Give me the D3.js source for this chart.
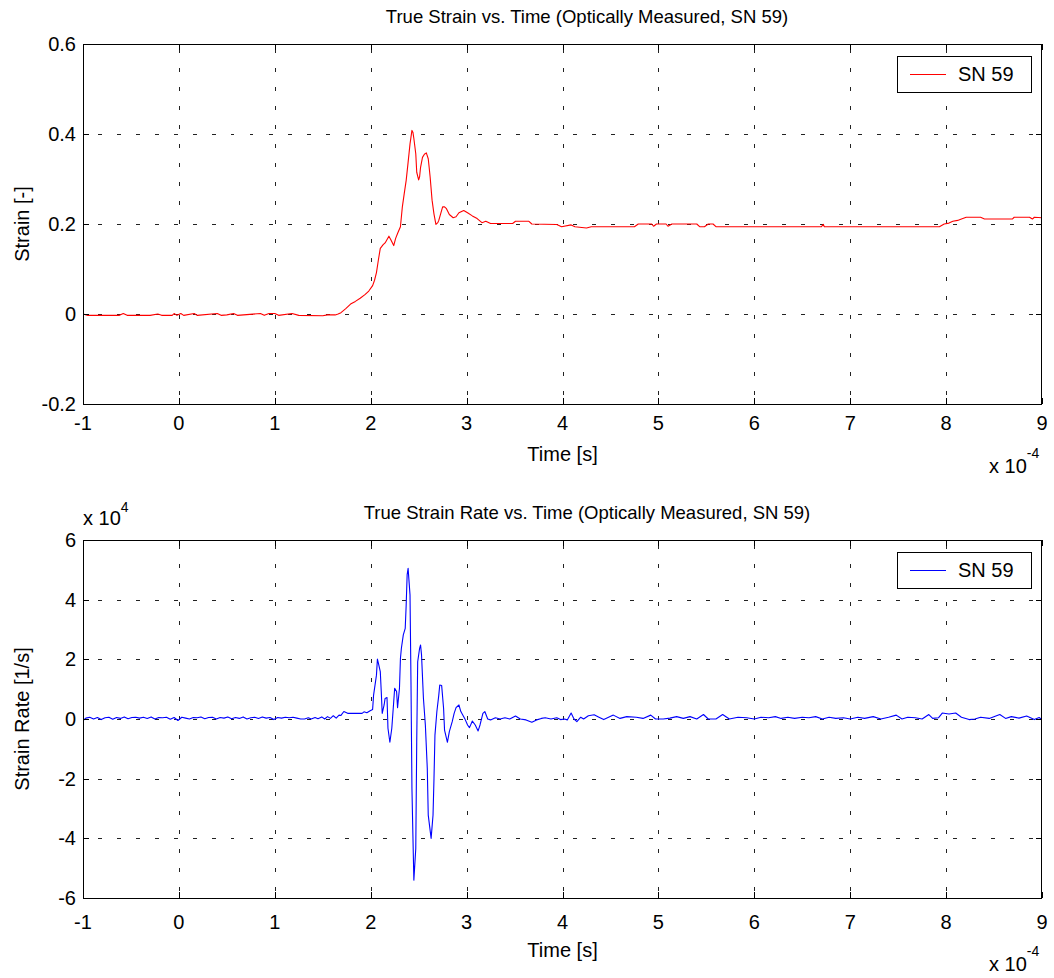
<!DOCTYPE html>
<html>
<head>
<meta charset="utf-8">
<script src="https://cdn.jsdelivr.net/npm/d3@7"></script>
<style>
  html, body { margin: 0; padding: 0; background: #fff; }
  svg { display: block; }
  text { font-family: "Liberation Sans", Arial, Helvetica, sans-serif; fill: #000; }
</style>
</head>
<body>
<svg id="fig" width="1054" height="978"></svg>
<script>
// Time axis in units of 1e-4 s
const timeTicks = [-1, 0, 1, 2, 3, 4, 5, 6, 7, 8, 9];
const strainTicks = [-0.2, 0, 0.2, 0.4, 0.6];
const strainTickLabels = ["-0.2", "0", "0.2", "0.4", "0.6"];
const rateTicks = [-6, -4, -2, 0, 2, 4, 6];          // units of 1e4 1/s
const rateTickLabels = ["-6", "-4", "-2", "0", "2", "4", "6"];

const seriesName = "SN 59";

// True strain, optically measured: [time (1e-4 s), strain (-)]
const strainTime = [
  -1.00, -0.95, -0.80, -0.62, -0.58, -0.54, -0.30, -0.22, -0.18, -0.07, -0.05, -0.02,
  0.02, 0.05, 0.16, 0.19, 0.40, 0.44, 0.50, 0.57, 0.61, 0.85, 0.89, 0.94, 1.00, 1.04,
  1.18, 1.25, 1.50, 1.55, 1.63, 1.66, 1.69, 1.74, 1.79, 1.84, 1.89, 1.94, 1.98, 2.02,
  2.04, 2.06, 2.08, 2.10, 2.13, 2.15, 2.19, 2.21, 2.24, 2.26, 2.28, 2.31, 2.33, 2.35,
  2.37, 2.39, 2.41, 2.43, 2.44, 2.45, 2.47, 2.48, 2.50, 2.51, 2.52, 2.54, 2.56, 2.58,
  2.60, 2.61, 2.62, 2.64, 2.66, 2.68, 2.70, 2.71, 2.73, 2.75, 2.77, 2.79, 2.82, 2.86,
  2.89, 2.92, 2.97, 3.01, 3.06, 3.11, 3.16, 3.20, 3.25, 3.48, 3.51, 3.65, 3.68, 3.94,
  3.99, 4.09, 4.13, 4.25, 4.30, 4.75, 4.79, 4.93, 4.95, 4.98, 5.08, 5.10, 5.14, 5.40,
  5.43, 5.48, 5.52, 5.57, 5.60, 6.70, 6.72, 6.73, 7.93, 7.98, 8.03, 8.07, 8.12, 8.16,
  8.21, 8.36, 8.40, 8.69, 8.71, 8.87, 8.90, 8.92, 9.00
];
const strainValues = [
  0.000, -0.003, -0.003, -0.003, 0.001, -0.003, -0.003, 0.000, -0.003, -0.003, 0.001, -0.003,
  0.001, -0.003, 0.001, -0.003, 0.001, -0.003, -0.002, 0.001, -0.003, 0.001, -0.003, 0.001, 0.001, -0.003,
  0.001, -0.003, -0.004, -0.002, -0.002, 0.000, 0.003, 0.012, 0.022, 0.028, 0.035, 0.043, 0.051, 0.063,
  0.075, 0.092, 0.120, 0.146, 0.154, 0.158, 0.173, 0.165, 0.152, 0.168, 0.179, 0.194, 0.238, 0.268,
  0.297, 0.337, 0.378, 0.408, 0.404, 0.390, 0.356, 0.315, 0.298, 0.305, 0.326, 0.348, 0.355, 0.358,
  0.345, 0.325, 0.304, 0.253, 0.222, 0.199, 0.203, 0.208, 0.223, 0.238, 0.238, 0.234, 0.221, 0.214,
  0.216, 0.225, 0.230, 0.225, 0.218, 0.212, 0.203, 0.206, 0.201, 0.201, 0.206, 0.206, 0.200, 0.199,
  0.194, 0.198, 0.194, 0.191, 0.194, 0.194, 0.200, 0.200, 0.195, 0.200, 0.200, 0.195, 0.200, 0.200,
  0.194, 0.194, 0.200, 0.200, 0.194, 0.194, 0.199, 0.194, 0.194, 0.200, 0.202, 0.206, 0.208, 0.211,
  0.215, 0.215, 0.211, 0.211, 0.215, 0.215, 0.211, 0.215, 0.214
];

// True strain rate, optically measured: [time (1e-4 s), rate (1e4 1/s)]
const rateTime = [
  -1.00, -0.97, -0.93, -0.89, -0.85, -0.81, -0.77, -0.73, -0.69, -0.65, -0.61, -0.57,
  -0.53, -0.49, -0.45, -0.41, -0.37, -0.33, -0.29, -0.25, -0.21, -0.17, -0.13, -0.09,
  -0.05, -0.01, 0.03, 0.07, 0.11, 0.15, 0.19, 0.23, 0.27, 0.31, 0.35, 0.39, 0.43, 0.47,
  0.51, 0.55, 0.59, 0.63, 0.67, 0.71, 0.75, 0.79, 0.83, 0.87, 0.91, 0.95, 0.99, 1.03,
  1.07, 1.11, 1.15, 1.19, 1.23, 1.27, 1.31, 1.35, 1.38, 1.42, 1.45, 1.49, 1.52, 1.55,
  1.58, 1.61, 1.64, 1.67, 1.69, 1.72, 1.76, 1.91, 1.93, 1.96, 1.99, 2.02, 2.03, 2.06,
  2.07, 2.08, 2.10, 2.11, 2.12, 2.14, 2.15, 2.17, 2.18, 2.20, 2.22, 2.24, 2.25, 2.27,
  2.28, 2.30, 2.31, 2.32, 2.34, 2.36, 2.37, 2.38, 2.39, 2.41, 2.42, 2.43, 2.44, 2.45,
  2.47, 2.48, 2.49, 2.51, 2.52, 2.53, 2.55, 2.57, 2.59, 2.60, 2.63, 2.65, 2.66, 2.67,
  2.69, 2.71, 2.72, 2.74, 2.76, 2.77, 2.80, 2.82, 2.85, 2.87, 2.89, 2.92, 2.94, 2.98,
  3.01, 3.03, 3.06, 3.09, 3.12, 3.14, 3.17, 3.19, 3.22, 3.25, 3.30, 3.35, 3.40, 3.45,
  3.51, 3.56, 3.62, 3.68, 3.73, 3.78, 3.82, 3.88, 3.94, 3.98, 4.02, 4.05, 4.09, 4.12,
  4.15, 4.19, 4.22, 4.27, 4.33, 4.38, 4.43, 4.53, 4.60, 4.67, 4.77, 4.84, 4.92, 4.97,
  5.05, 5.12, 5.19, 5.26, 5.33, 5.40, 5.47, 5.52, 5.60, 5.67, 5.74, 5.83, 5.92, 6.00,
  6.07, 6.15, 6.22, 6.28, 6.35, 6.42, 6.50, 6.57, 6.64, 6.71, 6.78, 6.85, 6.93, 7.00,
  7.08, 7.15, 7.24, 7.32, 7.40, 7.48, 7.54, 7.60, 7.68, 7.75, 7.82, 7.86, 7.92, 7.96,
  8.03, 8.10, 8.16, 8.24, 8.30, 8.36, 8.45, 8.56, 8.62, 8.68, 8.76, 8.84, 8.92, 8.97,
  9.00
];
const rateValues = [
  -0.05, 0.03, 0.06, 0.00, 0.05, -0.02, 0.04, 0.06, -0.01, 0.05, 0.02, 0.07,
  0.01, 0.05, 0.06, 0.03, 0.06, 0.02, 0.07, 0.00, 0.05, 0.04, 0.06, -0.01,
  0.05, -0.05, 0.06, 0.03, 0.00, 0.05, 0.04, 0.07, 0.01, 0.05, 0.06, 0.00, 0.05, 0.03,
  0.07, 0.01, 0.05, 0.02, 0.07, 0.00, 0.04, 0.06, 0.02, 0.07, 0.03, 0.05, -0.02, 0.05,
  0.03, 0.06, 0.04, 0.06, 0.03, 0.00, 0.00, 0.04, 0.00, 0.05, 0.01, 0.07, 0.00, 0.08,
  0.02, 0.11, 0.03, 0.13, 0.12, 0.25, 0.19, 0.19, 0.24, 0.21, 0.27, 0.32, 0.80, 1.47,
  2.01, 1.87, 1.59, 0.92, 0.19, 0.47, 0.69, 0.72, -0.31, -0.78, -0.31, 0.58, 1.03, 0.92,
  0.38, 1.03, 2.03, 2.37, 2.82, 3.04, 3.82, 4.83, 5.05, 4.16, 1.25, -2.32, -3.89, -5.40,
  -4.34, -0.76, 1.92, 2.37, 2.48, 2.15, 0.69, -0.20, -1.65, -3.22, -4.00, -3.22, -1.99, -0.54,
  0.25, 0.80, 1.14, 1.12, 0.36, -0.37, -0.78, -0.42, -0.09, 0.19, 0.38, 0.47, 0.25, 0.02,
  -0.20, -0.29, -0.07, -0.20, -0.40, -0.20, 0.19, 0.25, 0.00, -0.03, 0.04, 0.00, 0.04, 0.00,
  0.10, 0.00, -0.03, -0.11, -0.03, 0.02, 0.04, 0.00, 0.04, -0.02, 0.00, -0.03, 0.20, 0.00,
  -0.09, 0.06, 0.00, 0.11, 0.14, 0.06, -0.02, 0.13, 0.02, 0.08, 0.06, 0.02, 0.13, 0.00,
  0.00, 0.03, 0.08, 0.02, 0.08, 0.00, 0.15, 0.00, 0.00, 0.15, 0.00, 0.06, 0.04, 0.00,
  0.06, 0.04, 0.08, 0.02, 0.06, 0.02, 0.06, 0.04, 0.08, 0.00, 0.06, 0.02, 0.04, 0.00,
  0.06, 0.02, 0.08, 0.00, 0.06, 0.13, 0.00, 0.06, 0.04, 0.00, 0.15, 0.02, 0.04, 0.20,
  0.17, 0.20, 0.06, -0.02, 0.00, 0.06, 0.02, 0.15, 0.02, 0.08, 0.03, 0.10, -0.02, 0.05,
  -0.02
];

const FONT = 20;        // tick labels, axis labels, legend
const TITLE_FONT = 18.5;
const svg = d3.select("#fig");

function panel(opts) {
  const { left, right, top, bottom } = opts.box;
  const w = right - left, h = bottom - top;
  const x = d3.scaleLinear().domain([-1, 9]).range([left, right]);
  const y = d3.scaleLinear().domain(opts.yDomain).range([bottom, top]);
  const g = svg.append("g");

  // dotted grid
  const grid = g.append("g").attr("stroke", "#222").attr("stroke-width", 1)
    .attr("stroke-dasharray", "3.5,15.5").attr("shape-rendering", "crispEdges");
  grid.selectAll("line.v").data(timeTicks.slice(1, -1)).join("line")
    .attr("x1", d => Math.round(x(d)) + 0.5).attr("x2", d => Math.round(x(d)) + 0.5)
    .attr("y1", top + 5).attr("y2", bottom);
  grid.selectAll("line.h").data(opts.yTicks.slice(1, -1)).join("line")
    .attr("y1", d => Math.round(y(d)) + 0.5).attr("y2", d => Math.round(y(d)) + 0.5)
    .attr("x1", left + 15).attr("x2", right);

  // data line
  const clipId = "clip" + opts.id;
  svg.append("clipPath").attr("id", clipId).append("rect")
    .attr("x", left).attr("y", top).attr("width", w).attr("height", h);
  const pts = opts.t.map((t, i) => [t, opts.v[i]]);
  g.append("path").datum(pts)
    .attr("clip-path", `url(#${clipId})`)
    .attr("fill", "none").attr("stroke", opts.color).attr("stroke-width", 1.1)
    .attr("stroke-linejoin", "round")
    .attr("d", d3.line().x(d => x(d[0])).y(d => y(d[1])));

  // inward ticks on all four sides
  const tk = 6;
  const ax = (gen, tx, ty) => g.append("g").attr("transform", `translate(${tx},${ty})`).call(gen)
    .call(s => s.select(".domain").remove())
    .call(s => s.selectAll("text").remove())
    .call(s => s.selectAll("line").attr("stroke", "#000").attr("shape-rendering", "crispEdges"));
  ax(d3.axisBottom(x).tickValues(timeTicks).tickSize(-tk), 0, bottom);
  ax(d3.axisTop(x).tickValues(timeTicks).tickSize(-tk), 0, top);
  ax(d3.axisLeft(y).tickValues(opts.yTicks).tickSize(-tk), left, 0);
  ax(d3.axisRight(y).tickValues(opts.yTicks).tickSize(-tk), right, 0);

  // box
  g.append("rect").attr("x", left + 0.5).attr("y", top + 0.5).attr("width", w - 1).attr("height", h)
    .attr("fill", "none").attr("stroke", "#000").attr("stroke-width", 1)
    .attr("shape-rendering", "crispEdges");

  // tick labels
  g.append("g").selectAll("text").data(timeTicks).join("text")
    .attr("x", d => x(d)).attr("y", opts.xLabelBase)
    .attr("text-anchor", "middle").attr("font-size", FONT)
    .text(d => String(d));
  g.append("g").selectAll("text").data(opts.yTicks).join("text")
    .attr("x", left - 7).attr("y", d => y(d) + 7)
    .attr("text-anchor", "end").attr("font-size", FONT)
    .text((d, i) => opts.yTickLabels[i]);

  // title, axis labels
  g.append("text").attr("x", 587).attr("y", opts.titleBase)
    .attr("text-anchor", "middle").attr("font-size", TITLE_FONT).text(opts.title);
  g.append("text").attr("x", (left + right) / 2).attr("y", opts.xTitleBase)
    .attr("text-anchor", "middle").attr("font-size", FONT).text("Time [s]");
  g.append("text").attr("transform", `translate(29,${(top + bottom) / 2}) rotate(-90)`)
    .attr("text-anchor", "middle").attr("font-size", FONT).text(opts.yTitle);

  // x exponent
  const xe = g.append("text").attr("x", 989).attr("y", opts.xExpBase)
    .attr("font-size", FONT).text("x 10");
  g.append("text").attr("x", 989 + xe.node().getComputedTextLength())
    .attr("y", opts.xExpBase - 15).attr("font-size", 14).text("-4");

  // legend
  const lg = g.append("g").attr("transform", `translate(897,${top + 12})`);
  lg.append("rect").attr("x", 0.5).attr("y", 0.5).attr("width", 134).attr("height", 36)
    .attr("fill", "#fff").attr("stroke", "#000").attr("shape-rendering", "crispEdges");
  lg.append("line").attr("x1", 13).attr("x2", 49).attr("y1", 18.5).attr("y2", 18.5)
    .attr("stroke", opts.color).attr("stroke-width", 1);
  lg.append("text").attr("x", 61).attr("y", 25).attr("font-size", FONT).text(seriesName);

  return { x, y, g };
}

panel({
  id: "A",
  box: { left: 83, right: 1042, top: 44, bottom: 404 },
  yDomain: [-0.2, 0.6], yTicks: strainTicks, yTickLabels: strainTickLabels,
  t: strainTime, v: strainValues, color: "#ff0000",
  title: "True Strain vs. Time (Optically Measured, SN 59)",
  yTitle: "Strain [-]",
  titleBase: 23, xLabelBase: 430, xTitleBase: 461, xExpBase: 473
});

const bottomPanel = panel({
  id: "B",
  box: { left: 83, right: 1042, top: 540, bottom: 898 },
  yDomain: [-6, 6], yTicks: rateTicks, yTickLabels: rateTickLabels,
  t: rateTime, v: rateValues, color: "#0000ff",
  title: "True Strain Rate vs. Time (Optically Measured, SN 59)",
  yTitle: "Strain Rate [1/s]",
  titleBase: 519, xLabelBase: 929, xTitleBase: 957, xExpBase: 971
});

// y exponent for strain rate
const ye = bottomPanel.g.append("text").attr("x", 83).attr("y", 525).attr("font-size", FONT).text("x 10");
bottomPanel.g.append("text").attr("x", 83 + ye.node().getComputedTextLength())
  .attr("y", 512).attr("font-size", 14).text("4");
</script>
</body>
</html>
